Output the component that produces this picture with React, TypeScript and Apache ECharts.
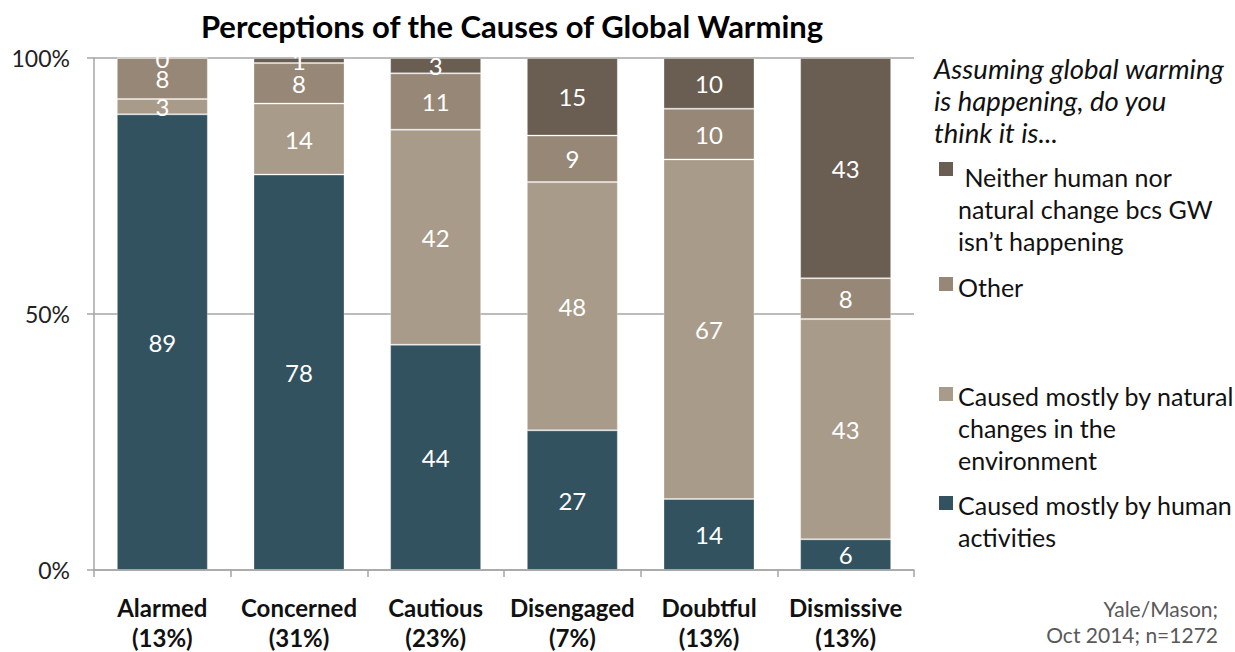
import React, { useEffect, useRef } from "react";
import * as echarts from "echarts";

const categories = ["Alarmed\n(13%)", "Concerned\n(31%)", "Cautious\n(23%)", "Disengaged\n(7%)", "Doubtful\n(13%)", "Dismissive\n(13%)"];
const seriesNames = [
  "Caused mostly by human activities",
  "Caused mostly by natural changes in the environment",
  "Other",
  "Neither human nor natural change bcs GW isn't happening",
];
const human = [89, 78, 44, 27, 14, 6];
const natural = [3, 14, 42, 48, 67, 43];
const other = [8, 8, 11, 9, 10, 8];
const neither = [0, 1, 3, 15, 10, 43];
const yTicks = [0, 50, 100];
const colors = ["#33525F", "#A99B8A", "#978777", "#6A5E52"];

const FONT = "Lato, 'Open Sans', sans-serif";

export default function App() {
  const ref = useRef<HTMLDivElement>(null);
  useEffect(() => {
    if (!ref.current) return;
    const chart = echarts.init(ref.current, undefined, { renderer: "svg" });
    const raw = [human, natural, other, neither];
    const totals = categories.map((_, i) => raw.reduce((s, arr) => s + arr[i], 0));
    const series = raw.map((arr, si) => ({
      name: seriesNames[si],
      type: "bar",
      stack: "total",
      barWidth: 91,
      clip: true,
      itemStyle: { color: colors[si], borderColor: "rgba(255,255,255,0.3)", borderWidth: 1 },
      label: {
        show: true,
        position: "inside",
        color: "#ffffff",
        fontSize: 24,
        fontFamily: FONT,
        formatter: (p: any) => String(arr[p.dataIndex]),
      },
      data: arr.map((v, i) => (v / totals[i]) * 100),
    }));

    const legendItems = [
      { color: colors[3], sq: 162, lines: [" Neither human nor", "natural change bcs GW", "isn\u2019t happening"], y: 177 },
      { color: colors[2], sq: 277, lines: ["Other"], y: 287 },
      { color: colors[1], sq: 387, lines: ["Caused mostly by natural", "changes in the", "environment"], y: 396 },
      { color: colors[0], sq: 496, lines: ["Caused mostly by human", "activities"], y: 505 },
    ];
    const graphics: any[] = [
      {
        type: "text",
        x: 512,
        y: 26,
        style: {
          text: "Perceptions of the Causes of Global Warming",
          fontFamily: FONT,
          fontWeight: "bold",
          fontSize: 31,
          fill: "#000000",
          textAlign: "center",
          textVerticalAlign: "middle",
        },
      },
      ...["Assuming global warming", "is happening, do you", "think it is..."].map((t, i) => ({
        type: "text",
        x: 934,
        y: 68 + i * 32,
        style: {
          text: t,
          fontFamily: FONT,
          fontStyle: "italic",
          fontSize: 27.5,
          fill: "#111111",
          textAlign: "left",
          textVerticalAlign: "middle",
        },
      })),
      {
        type: "text",
        x: 1218,
        y: 608,
        style: { text: "Yale/Mason;", fontFamily: FONT, fontSize: 21, fill: "#595959", textAlign: "right", textVerticalAlign: "middle" },
      },
      {
        type: "text",
        x: 1218,
        y: 634,
        style: { text: "Oct 2014; n=1272", fontFamily: FONT, fontSize: 21, fill: "#595959", textAlign: "right", textVerticalAlign: "middle" },
      },
    ];
    legendItems.forEach((it) => {
      graphics.push({ type: "rect", shape: { x: 939, y: it.sq, width: 14, height: 14 }, style: { fill: it.color } });
      it.lines.forEach((t, i) => {
        graphics.push({
          type: "text",
          x: 958,
          y: it.y + i * 32,
          style: { text: t, fontFamily: FONT, fontSize: 25, fill: "#111111", textAlign: "left", textVerticalAlign: "middle" },
        });
      });
    });

    chart.setOption({
      animation: false,
      textStyle: { fontFamily: FONT },
      grid: { left: 94, right: 321, top: 58, bottom: 82, containLabel: false },
      xAxis: {
        type: "category",
        data: categories,
        axisLine: { show: true, lineStyle: { color: "#A6A6A6", width: 1.5 } },
        axisTick: { show: true, length: 7, alignWithLabel: false, lineStyle: { color: "#A6A6A6", width: 1.5 } },
        axisLabel: { fontSize: 24, fontWeight: "bold", color: "#111111", lineHeight: 30, margin: 22, fontFamily: FONT, interval: 0 },
      },
      yAxis: {
        type: "value",
        min: yTicks[0],
        max: yTicks[yTicks.length - 1],
        interval: yTicks[1] - yTicks[0],
        axisLine: { show: true, lineStyle: { color: "#A6A6A6", width: 1.5 } },
        axisTick: { show: true, length: 7, lineStyle: { color: "#A6A6A6", width: 1.5 } },
        axisLabel: { fontSize: 23, color: "#222222", margin: 24, fontFamily: FONT, formatter: "{value}%" },
        splitLine: { show: true, lineStyle: { color: "#A6A6A6", width: 1.5 } },
      },
      series,
      graphic: graphics,
    });
    return () => chart.dispose();
  }, []);
  return <div ref={ref} style={{ position: "fixed", left: 0, top: 0, width: 1235, height: 652, background: "#ffffff" }} />;
}
